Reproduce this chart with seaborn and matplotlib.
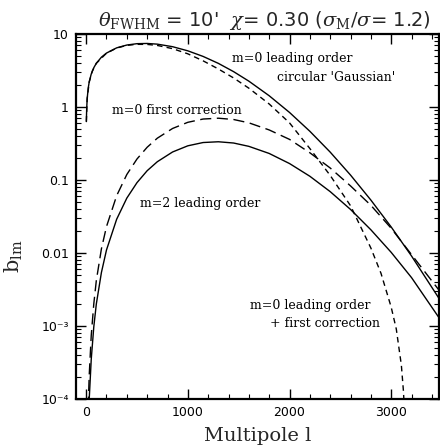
import numpy as np
import pandas as pd
import matplotlib
matplotlib.use("Agg")
import matplotlib.pyplot as plt
from matplotlib.ticker import MultipleLocator, LogLocator, FixedLocator, FixedFormatter, NullFormatter
import seaborn as sns

# values (multipole l, b_lm)
ell_gauss = [2, 5, 10, 20, 30, 50, 75, 100, 150, 200, 300, 400, 500, 600, 700, 850,
             1000, 1150, 1300, 1450, 1600, 1800, 2000, 2200, 2400, 2600, 2800, 3000, 3200, 3470]
b_gauss = [0.631, 0.936, 1.293, 1.806, 2.20, 2.83, 3.45, 3.97, 4.81, 5.48, 6.46, 7.06, 7.37, 7.42,
           7.26, 6.70, 5.88, 4.93, 3.96, 3.05, 2.26, 1.426, 0.842, 0.465, 0.241, 0.1168, 0.0531,
           0.0227, 0.00909, 0.00239]

ell_sum = [2, 10, 30, 60, 100, 200, 300, 400, 500, 600, 700, 850, 1000, 1150, 1300, 1450, 1600,
           1800, 2000, 2200, 2400, 2600, 2800, 2900, 3000, 3050, 3100, 3120, 3140]
b_sum = [0.631, 1.293, 2.20, 3.09, 3.97, 5.46, 6.42, 6.99, 7.22, 7.20, 6.97, 6.30, 5.35, 4.29,
         3.32, 2.50, 1.81, 1.10, 0.606, 0.270, 0.1155, 0.0444, 0.0117, 0.00525, 0.00181,
         0.00091, 0.00029, 0.00013, 0.00004]

ell_corr = [20, 30, 50, 75, 100, 150, 200, 300, 400, 500, 600, 700, 850, 1000, 1150, 1300, 1450,
            1600, 1800, 2000, 2200, 2400, 2600, 2800, 3000, 3200, 3470]
b_corr = [7.6e-5, 2.1e-4, 7.4e-4, 2.0e-3, 4.2e-3, 0.0114, 0.023, 0.061, 0.119, 0.194, 0.281,
          0.374, 0.508, 0.617, 0.684, 0.702, 0.674, 0.607, 0.485, 0.36, 0.236, 0.146, 0.083,
          0.045, 0.0218, 0.0095, 0.0031]

ell_m2 = [20, 30, 50, 75, 100, 150, 200, 300, 400, 500, 600, 700, 850, 1000, 1150, 1300, 1450,
          1600, 1800, 2000, 2200, 2400, 2600, 2800, 3000, 3200, 3470]
b_m2 = [3.6e-5, 9.9e-5, 3.5e-4, 9.7e-4, 2.0e-3, 5.4e-3, 0.011, 0.029, 0.0565, 0.092, 0.134,
        0.178, 0.242, 0.294, 0.326, 0.334, 0.321, 0.289, 0.231, 0.168, 0.1125, 0.0693, 0.0395,
        0.0208, 0.0102, 0.0046, 0.0013]

ytick_vals = [1e-4, 1e-3, 1e-2, 1e-1, 1, 10]
ytick_labels = ["10⁻⁴", "10⁻³", "0.01", "0.1", "1", "10"]

sns.set_theme(style="ticks")
plt.rcParams["font.family"] = ["DejaVu Sans"]
plt.rcParams["mathtext.fontset"] = "dejavuserif"

fig = plt.figure(figsize=(4.4, 4.45), dpi=100)
ax = fig.add_axes([0.1727, 0.1034, 0.825, 0.8202])

curves = [
    (ell_gauss, b_gauss, "-"),
    (ell_sum, b_sum, (0, (4, 3))),
    (ell_corr, b_corr, (0, (8, 4))),
    (ell_m2, b_m2, "-"),
]
for ell, b, ls in curves:
    sns.lineplot(x=ell, y=b, ax=ax, color="black", linewidth=1.0, linestyle=ls)

ax.set_yscale("log")
ax.set_xlim(-100, 3470)
ax.set_ylim(1e-4, 10)

ax.xaxis.set_major_locator(MultipleLocator(1000))
ax.xaxis.set_minor_locator(MultipleLocator(200))
ax.yaxis.set_major_locator(FixedLocator(ytick_vals))
ax.yaxis.set_major_formatter(FixedFormatter(ytick_labels))
ax.yaxis.set_minor_locator(LogLocator(base=10, subs=np.arange(2, 10)))
ax.yaxis.set_minor_formatter(NullFormatter())

ax.tick_params(which="both", direction="in", top=True, right=True, colors="black",
               labelsize=9, pad=5)
ax.tick_params(which="major", length=7, width=1)
ax.tick_params(which="minor", length=3.5, width=0.8)
for s in ax.spines.values():
    s.set_linewidth(1.6)
    s.set_color("black")

ax.set_xlabel("Multipole l", family="DejaVu Serif", fontsize=14, labelpad=6)
ax.set_ylabel(r"$\mathrm{b}_{\mathrm{lm}}$", fontsize=15)
ax.yaxis.set_label_coords(-0.14, 0.39)

ax.set_title(r"$\theta_{\rm FWHM}$ = 10'  $\chi$= 0.30 ($\sigma_{\rm M}/\sigma$= 1.2)",
             fontsize=14, pad=6, x=0.52)

# curve annotations
txt = dict(family="DejaVu Serif", fontsize=9, ha="left", va="baseline", color="black")
ax.text(1436, 4.13, "m=0 leading order", **txt)
ax.text(1878, 2.27, "circular 'Gaussian'", **txt)
ax.text(256, 0.80, "m=0 first correction", **txt)
ax.text(531, 0.0427, "m=2 leading order", **txt)
ax.text(1613, 0.00171, "m=0 leading order", **txt)
ax.text(1810, 0.00097, "+ first correction", **txt)

fig.savefig("out.png", dpi=100)
